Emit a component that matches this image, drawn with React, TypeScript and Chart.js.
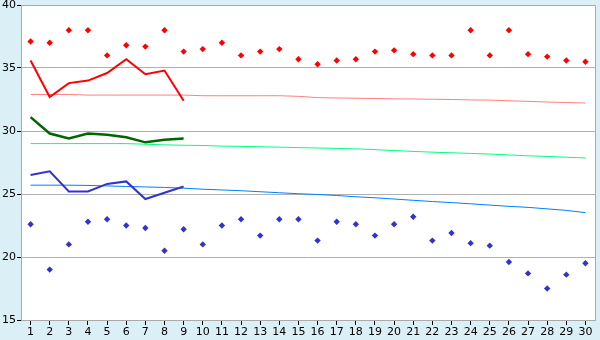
import React, { useEffect, useRef } from "react";
import { Chart, registerables } from "chart.js";

Chart.register(...registerables);

const days = Array.from({ length: 30 }, (_, i) => String(i + 1));

const maxPoints = [37.1, 37.0, 38.0, 38.0, 36.0, 36.8, 36.7, 38.0, 36.3, 36.5, 37.0, 36.0, 36.3, 36.5, 35.7, 35.3, 35.6, 35.7, 36.3, 36.4, 36.1, 36.0, 36.0, 38.0, 36.0, 38.0, 36.1, 35.9, 35.6, 35.5];
const minPoints = [22.6, 19.0, 21.0, 22.8, 23.0, 22.5, 22.3, 20.5, 22.2, 21.0, 22.5, 23.0, 21.7, 23.0, 23.0, 21.3, 22.8, 22.6, 21.7, 22.6, 23.2, 21.3, 21.9, 21.1, 20.9, 19.6, 18.7, 17.5, 18.6, 19.5];

const maxLine = [35.6, 32.7, 33.8, 34.0, 34.6, 35.7, 34.5, 34.8, 32.4];
const avgLine = [31.1, 29.8, 29.4, 29.8, 29.7, 29.5, 29.1, 29.3, 29.4];
const minLine = [26.5, 26.8, 25.2, 25.2, 25.8, 26.0, 24.6, 25.1, 25.6];

const maxNormal = [32.9, 32.9, 32.9, 32.85, 32.85, 32.85, 32.85, 32.85, 32.85, 32.8, 32.8, 32.8, 32.8, 32.8, 32.75, 32.65, 32.62, 32.6, 32.58, 32.55, 32.54, 32.52, 32.5, 32.47, 32.45, 32.4, 32.35, 32.3, 32.26, 32.22];
const avgNormal = [29.0, 29.0, 29.0, 29.0, 29.0, 29.0, 28.95, 28.9, 28.87, 28.85, 28.8, 28.78, 28.75, 28.72, 28.68, 28.65, 28.62, 28.58, 28.52, 28.45, 28.38, 28.32, 28.27, 28.22, 28.17, 28.1, 28.03, 27.98, 27.92, 27.86];
const minNormal = [25.7, 25.7, 25.7, 25.68, 25.64, 25.6, 25.56, 25.52, 25.46, 25.38, 25.32, 25.26, 25.18, 25.1, 25.02, 24.96, 24.88, 24.78, 24.7, 24.6, 24.5, 24.4, 24.32, 24.22, 24.12, 24.02, 23.94, 23.82, 23.7, 23.52];

const yTicks = [15, 20, 25, 30, 35, 40];

const bgPlugin = {
  id: "bgPlugin",
  beforeDraw(chart: any) {
    const { ctx, chartArea } = chart;
    ctx.save();
    ctx.fillStyle = "#daf0f6";
    ctx.fillRect(0, 0, chart.width, chart.height);
    ctx.fillStyle = "#ffffff";
    ctx.fillRect(chartArea.left, chartArea.top, chartArea.right - chartArea.left, chartArea.bottom - chartArea.top);
    ctx.restore();
  },
  afterDraw(chart: any) {
    const { ctx, chartArea } = chart;
    ctx.save();
    ctx.strokeStyle = "#aaaaaa";
    ctx.lineWidth = 1;
    ctx.beginPath();
    ctx.moveTo(chartArea.left, chartArea.top + 0.5);
    ctx.lineTo(chartArea.right + 0.5, chartArea.top + 0.5);
    ctx.lineTo(chartArea.right + 0.5, chartArea.bottom);
    ctx.stroke();
    ctx.restore();
  },
};

export default function App() {
  const ref = useRef<HTMLCanvasElement>(null);
  useEffect(() => {
    document.body.style.margin = "0";
    const font = { family: "DejaVu Sans", size: 11 };
    const chart = new Chart(ref.current as HTMLCanvasElement, {
      type: "line",
      data: {
        labels: days,
        datasets: [
          { data: maxPoints, showLine: false, pointStyle: "rectRot", pointRadius: 3.2, pointBackgroundColor: "#ff0000", pointBorderColor: "#ff0000", pointBorderWidth: 0, order: 1 },
          { data: minPoints, showLine: false, pointStyle: "rectRot", pointRadius: 3.2, pointBackgroundColor: "#3333cc", pointBorderColor: "#3333cc", pointBorderWidth: 0, order: 2 },
          { data: maxLine, borderColor: "#ff0000", borderWidth: 2, pointRadius: 0, tension: 0, order: 3 },
          { data: avgLine, borderColor: "#006600", borderWidth: 2.5, pointRadius: 0, tension: 0, order: 4 },
          { data: minLine, borderColor: "#3333cc", borderWidth: 2, pointRadius: 0, tension: 0, order: 5 },
          { data: maxNormal, borderColor: "#ff8080", borderWidth: 1, pointRadius: 0, tension: 0, order: 6 },
          { data: avgNormal, borderColor: "#00ff80", borderWidth: 1, pointRadius: 0, tension: 0, order: 7 },
          { data: minNormal, borderColor: "#0080ff", borderWidth: 1, pointRadius: 0, tension: 0, order: 8 },
        ],
      },
      options: {
        animation: false,
        responsive: true,
        maintainAspectRatio: false,
        layout: { padding: { top: 5, right: 5, left: 0, bottom: 0 } },
        plugins: { legend: { display: false }, tooltip: { enabled: false } },
        scales: {
          x: {
            type: "category",
            offset: true,
            grid: { offset: false, drawOnChartArea: false, tickLength: 5, tickColor: "#000000" },
            border: { color: "#aaaaaa" },
            ticks: { color: "#000000", font, padding: 1, maxRotation: 0, autoSkip: false },
            afterFit(scale: any) { scale.height = 20; scale.paddingLeft = 0; scale.paddingRight = 0; },
          },
          y: {
            min: 15,
            max: 40,
            afterBuildTicks(scale: any) { scale.ticks = yTicks.map((v) => ({ value: v })); },
            grid: { color: "#b0b0b0", tickLength: 4, tickColor: "#000000" },
            border: { color: "#aaaaaa" },
            ticks: { color: "#000000", font, padding: 1 },
            afterFit(scale: any) { scale.width = 21; scale.paddingTop = 0; scale.paddingBottom = 0; },
          },
        },
      },
      plugins: [bgPlugin],
    });
    return () => chart.destroy();
  }, []);
  return (
    <div style={{ width: 600, height: 340, position: "relative" }}>
      <canvas ref={ref} />
    </div>
  );
}
